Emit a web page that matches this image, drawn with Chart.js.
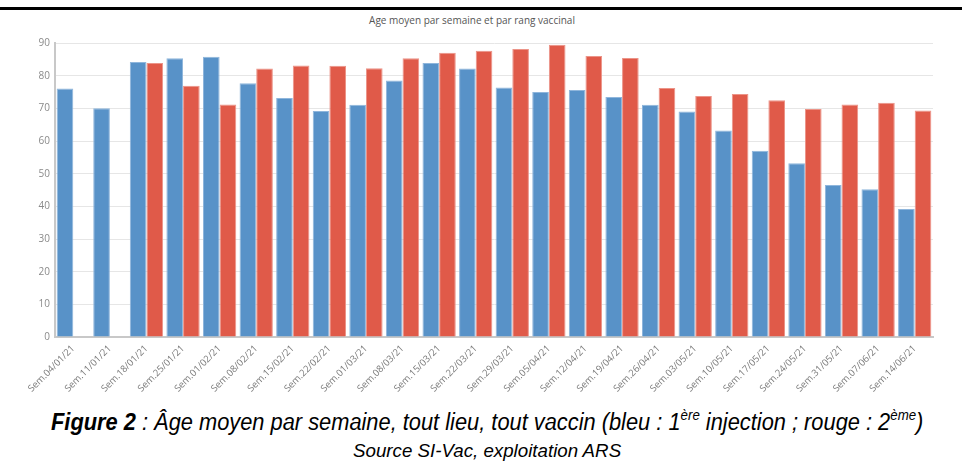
<!DOCTYPE html>
<html>
<head>
<meta charset="utf-8">
<script src="https://cdn.jsdelivr.net/npm/chart.js@4.4.1/dist/chart.umd.min.js"></script>
<style>
  html, body { margin: 0; padding: 0; background: #fff; width: 962px; height: 461px; overflow: hidden; }
  #topline { position: absolute; left: 0; top: 7px; width: 962px; height: 3px; background: #000; }
  #title { position: absolute; left: 0; top: 13px; width: 944px; text-align: center;
           font: 10px "Open Sans", sans-serif; color: #555; }
  #wrap { position: absolute; left: 0; top: 0; width: 962px; height: 400px; }
  .line { position: absolute; white-space: nowrap; transform-origin: 0 0;
          font-family: "Liberation Sans", Arial, sans-serif; font-style: italic; color: #000; }
  #caption { top: 409px; font-size: 23px; }
  #caption b { font-weight: bold; }
  #caption sup { font-size: 14px; vertical-align: 10px; line-height: 0; }
  #source { top: 440px; font-size: 19px; }
</style>
</head>
<body>
<div id="topline"></div>
<div id="title">Age moyen par semaine et par rang vaccinal</div>
<div id="wrap"><canvas id="chart"></canvas></div>
<span class="line" id="caption"><b>Figure 2</b> : Âge moyen par semaine, tout lieu, tout vaccin (bleu : 1<sup>ère</sup> injection ; rouge : 2<sup>ème</sup>)</span>
<span class="line" id="source">Source SI-Vac, exploitation ARS</span>
<script>
const weeks = ['Sem.04/01/21', 'Sem.11/01/21', 'Sem.18/01/21', 'Sem.25/01/21', 'Sem.01/02/21', 'Sem.08/02/21',
    'Sem.15/02/21', 'Sem.22/02/21', 'Sem.01/03/21', 'Sem.08/03/21', 'Sem.15/03/21', 'Sem.22/03/21',
    'Sem.29/03/21', 'Sem.05/04/21', 'Sem.12/04/21', 'Sem.19/04/21', 'Sem.26/04/21', 'Sem.03/05/21',
    'Sem.10/05/21', 'Sem.17/05/21', 'Sem.24/05/21', 'Sem.31/05/21', 'Sem.07/06/21', 'Sem.14/06/21'];

// age moyen, 1ere injection (bleu)
const firstDose = [76.1, 70.0, 84.2, 85.3, 85.8, 77.7, 73.2, 69.2, 71.1, 78.5, 83.9, 82.2,
    76.4, 75.0, 75.6, 73.5, 71.1, 69.0, 63.2, 57.0, 53.2, 46.5, 45.2, 39.2];

// age moyen, 2eme injection (rouge)
const secondDose = [null, null, 83.9, 76.9, 71.2, 82.2, 83.1, 83.0, 82.3, 85.3, 87.0, 87.6,
    88.2, 89.5, 86.0, 85.4, 76.2, 73.8, 74.4, 72.5, 69.8, 71.2, 71.7, 69.3];

const yTicks = [0, 10, 20, 30, 40, 50, 60, 70, 80, 90];

// squeeze the caption lines to the narrow look of the original (left edge, width)
function fitLine(id, left, width) {
    const el = document.getElementById(id);
    const s = width / el.offsetWidth;
    el.style.left = left + 'px';
    el.style.transform = 'scaleX(' + s + ')';
}
fitLine('caption', 51, 872);
fitLine('source', 353, 268);

const ctx = document.getElementById('chart').getContext('2d');
new Chart(ctx, {
    type: 'bar',
    data: {
        labels: weeks,
        datasets: [
            {
                label: '1ère injection',
                data: firstDose,
                backgroundColor: '#5892c8',
                borderColor: '#8fb6dc',
                borderWidth: 1,
                barPercentage: 1.0,
                categoryPercentage: 0.91
            },
            {
                label: '2ème injection',
                data: secondDose,
                backgroundColor: '#e05a49',
                borderColor: '#ec9488',
                borderWidth: 1,
                barPercentage: 1.0,
                categoryPercentage: 0.91
            }
        ]
    },
    options: {
        responsive: true,
        maintainAspectRatio: false,
        animation: false,
        layout: { padding: { top: 43, left: 0, right: 29, bottom: 0 } },
        plugins: {
            legend: { display: false },
            tooltip: { enabled: false }
        },
        scales: {
            x: {
                grid: { display: false, drawTicks: false },
                border: { color: '#c8c8c8', width: 2 },
                ticks: {
                    color: '#7a7a7a',
                    font: { family: 'Open Sans', size: 9.5 },
                    minRotation: 45,
                    maxRotation: 45,
                    autoSkip: false,
                    padding: 6
                },
                afterFit: (scale) => { scale.height = 63; }
            },
            y: {
                min: 0,
                max: 90,
                afterBuildTicks: (scale) => { scale.ticks = yTicks.map((v) => ({ value: v })); },
                grid: { color: '#e6e6e6', drawTicks: false },
                border: { color: '#c8c8c8', width: 2 },
                ticks: {
                    color: '#8a8a8a',
                    font: { family: 'Open Sans', size: 10 },
                    padding: 5
                },
                afterFit: (scale) => { scale.width = 55; }
            }
        }
    }
});
</script>
</body>
</html>
